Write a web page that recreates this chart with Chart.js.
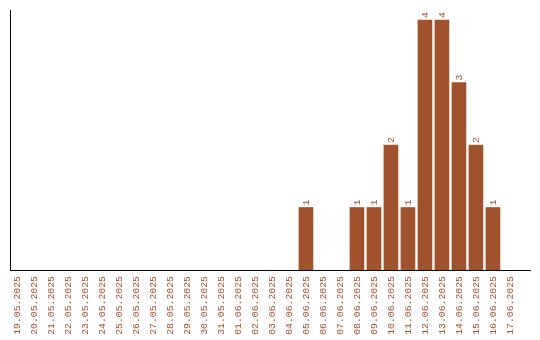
<!DOCTYPE html>
<html>
<head>
<meta charset="utf-8">
<script src="https://cdn.jsdelivr.net/npm/chart.js@4/dist/chart.umd.min.js"></script>
<style>
  html, body { margin: 0; padding: 0; background: #fff; }
  #wrap { width: 540px; height: 340px; }
</style>
</head>
<body>
<div id="wrap"><canvas id="c" width="540" height="340"></canvas></div>
<script>
const dates = [
  "19.05.2025","20.05.2025","21.05.2025","22.05.2025","23.05.2025","24.05.2025",
  "25.05.2025","26.05.2025","27.05.2025","28.05.2025","29.05.2025","30.05.2025",
  "31.05.2025","01.06.2025","02.06.2025","03.06.2025","04.06.2025","05.06.2025",
  "06.06.2025","07.06.2025","08.06.2025","09.06.2025","10.06.2025","11.06.2025",
  "12.06.2025","13.06.2025","14.06.2025","15.06.2025","16.06.2025","17.06.2025"
];
const counts = [
  0,0,0,0,0,0,
  0,0,0,0,0,0,
  0,0,0,0,0,1,
  0,0,1,1,2,1,
  4,4,3,2,1,0
];

const BROWN = '#a0522d';
const FONT = { family: '"Liberation Mono", "DejaVu Sans Mono", monospace', size: 9.8 };

const valueLabels = {
  id: 'valueLabels',
  afterDatasetsDraw(chart) {
    const ctx = chart.ctx;
    const meta = chart.getDatasetMeta(0);
    ctx.save();
    ctx.fillStyle = BROWN;
    ctx.font = FONT.size + 'px ' + FONT.family;
    ctx.textAlign = 'left';
    ctx.textBaseline = 'middle';
    meta.data.forEach((bar, i) => {
      const v = counts[i];
      if (!v) return;
      ctx.save();
      ctx.translate(bar.x, bar.y - 2);
      ctx.rotate(-Math.PI / 2);
      ctx.fillText(String(v), 0, 0);
      ctx.restore();
    });
    ctx.restore();
  }
};

new Chart(document.getElementById('c'), {
  type: 'bar',
  data: {
    datasets: [{
      data: counts.map((v, i) => ({ x: i, y: v === 0 ? null : v })),
      backgroundColor: BROWN,
      borderWidth: 0,
      barThickness: 14
    }]
  },
  options: {
    responsive: false,
    animation: false,
    layout: { padding: { left: 10, top: 10, right: 10, bottom: 0 } },
    plugins: { legend: { display: false }, tooltip: { enabled: false } },
    scales: {
      x: {
        type: 'linear',
        offset: false,
        min: -0.41,
        max: 30.18,
        grid: { display: false, drawTicks: false },
        border: { display: true, color: '#000', width: 1 },
        afterBuildTicks: s => { s.ticks = dates.map((_, i) => ({ value: i })); },
        afterFit: s => { s.height = 70; },
        ticks: {
          autoSkip: false,
          minRotation: 90,
          maxRotation: 90,
          padding: 6,
          color: BROWN,
          font: FONT,
          callback: v => dates[v]
        }
      },
      y: {
        min: 0,
        max: 4.16,
        grid: { display: false, drawTicks: false },
        border: { display: true, color: '#000', width: 1 },
        ticks: { display: false }
      }
    }
  },
  plugins: [valueLabels]
});
</script>
</body>
</html>
